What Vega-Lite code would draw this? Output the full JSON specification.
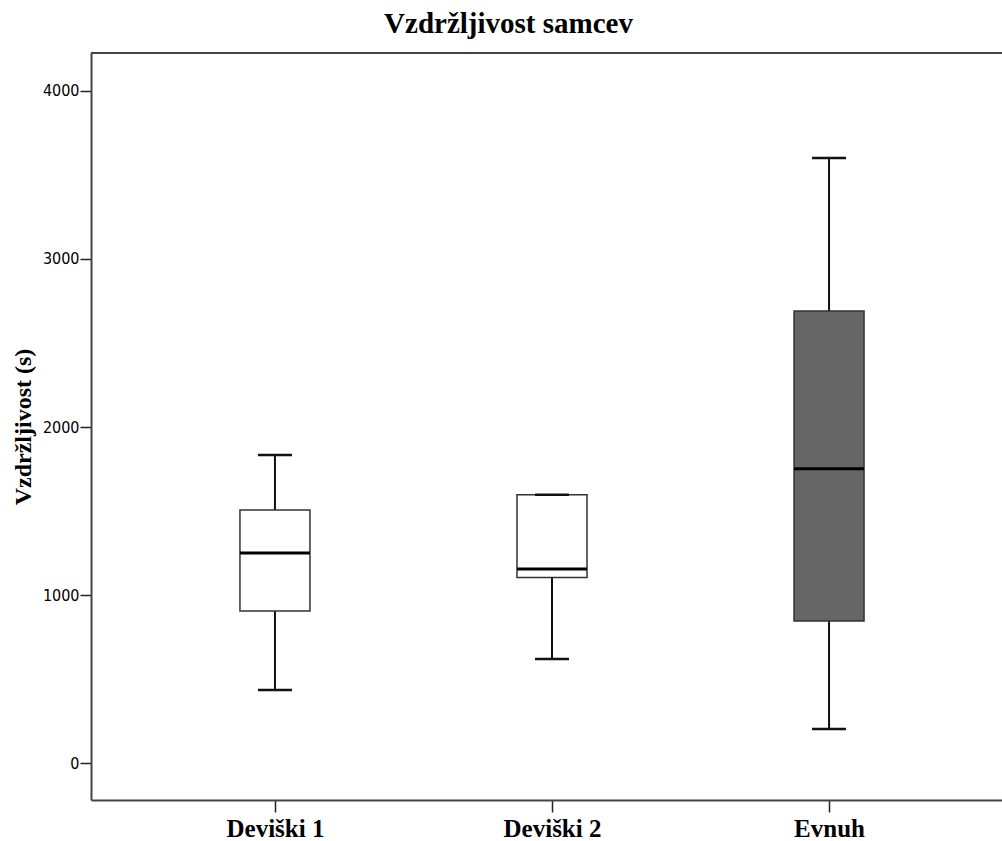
{
  "$schema": "https://vega.github.io/schema/vega-lite/v6.json",
  "autosize": "none",
  "width": 911,
  "height": 747,
  "padding": {"left": 91, "top": 53, "right": 0, "bottom": 41},
  "background": "white",
  "title": {
    "text": "Vzdržljivost samcev",
    "font": "Liberation Serif",
    "fontSize": 29,
    "fontWeight": "bold",
    "color": "#000000",
    "anchor": "middle",
    "dx": -38,
    "offset": 13
  },
  "config": {
    "view": {"stroke": null},
    "axis": {
      "domainColor": "#444444",
      "domainWidth": 2,
      "tickColor": "#222222",
      "tickWidth": 1.5,
      "grid": false,
      "labelColor": "#000000",
      "titleColor": "#000000"
    }
  },
  "data": {
    "values": [
      {"group": "Deviški 1", "lower": 435, "q1": 905, "median": 1250, "q3": 1506, "upper": 1833, "fill": "white"},
      {"group": "Deviški 2", "lower": 619, "q1": 1105, "median": 1155, "q3": 1597, "upper": 1597, "fill": "white"},
      {"group": "Evnuh", "lower": 202, "q1": 845, "median": 1752, "q3": 2690, "upper": 3601, "fill": "dark"}
    ]
  },
  "encoding": {
    "x": {
      "field": "group",
      "type": "nominal",
      "sort": null,
      "scale": {"type": "point", "range": [0, 922], "padding": 0.664},
      "axis": {
        "title": null,
        "labelAngle": 0,
        "labelFont": "Liberation Serif",
        "labelFontSize": 25,
        "labelFontWeight": "bold",
        "tickSize": 12,
        "labelPadding": 4
      }
    }
  },
  "layer": [
    {
      "mark": {"type": "rule", "color": "#444444", "strokeWidth": 2},
      "encoding": {"y": {"datum": 4226}, "x": null}
    },
    {
      "mark": {"type": "rule", "color": "#111111", "strokeWidth": 2},
      "encoding": {
        "y": {
          "field": "lower",
          "type": "quantitative",
          "scale": {"domain": [-220, 4226], "nice": false, "zero": false},
          "axis": {
            "title": "Vzdržljivost (s)",
            "titleFont": "Liberation Serif",
            "titleFontSize": 24,
            "titleFontWeight": "bold",
            "titlePadding": 7,
            "values": [0, 1000, 2000, 3000, 4000],
            "format": "d",
            "labelFont": "'DejaVu Sans Condensed', 'Liberation Sans Narrow', 'Roboto Condensed', sans-serif",
            "labelFontSize": 16,
            "tickSize": 11,
            "labelPadding": 1
          }
        },
        "y2": {"field": "upper"}
      }
    },
    {
      "mark": {"type": "bar", "size": 70, "stroke": "#333333", "strokeWidth": 1.5},
      "encoding": {
        "y": {"field": "q1", "type": "quantitative"},
        "y2": {"field": "q3"},
        "fill": {
          "field": "fill",
          "type": "nominal",
          "scale": {"domain": ["white", "dark"], "range": ["#ffffff", "#666666"]},
          "legend": null
        }
      }
    },
    {
      "mark": {"type": "tick", "size": 70, "thickness": 3, "color": "#000000", "opacity": 1},
      "encoding": {"y": {"field": "median", "type": "quantitative"}}
    },
    {
      "mark": {"type": "tick", "size": 34, "thickness": 2.5, "color": "#111111", "opacity": 1},
      "encoding": {"y": {"field": "lower", "type": "quantitative"}}
    },
    {
      "mark": {"type": "tick", "size": 34, "thickness": 2.5, "color": "#111111", "opacity": 1},
      "encoding": {"y": {"field": "upper", "type": "quantitative"}}
    }
  ]
}
